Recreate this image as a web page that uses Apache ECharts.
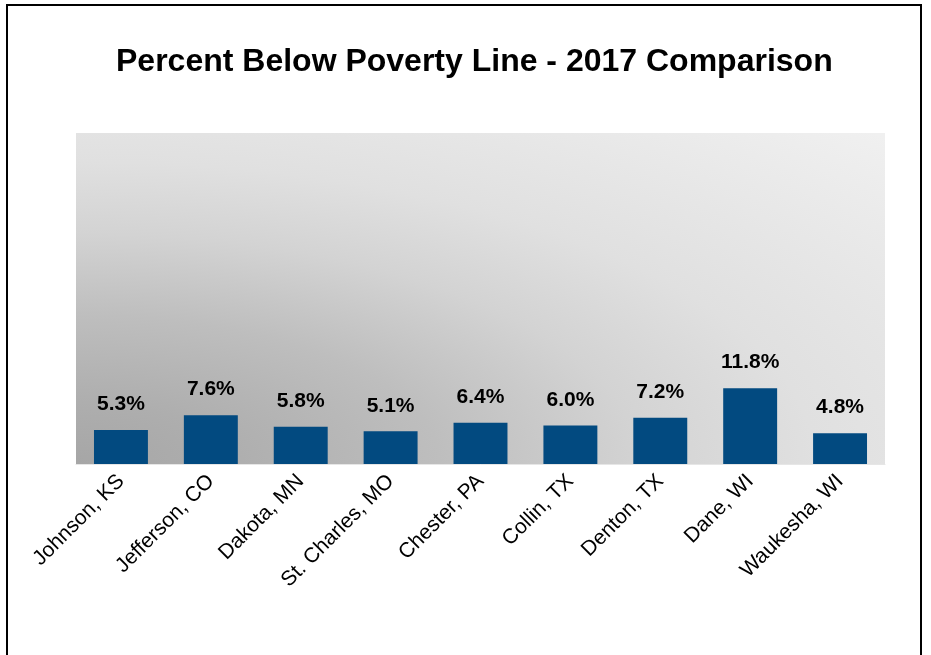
<!DOCTYPE html>
<html>
<head>
<meta charset="utf-8">
<title>Percent Below Poverty Line - 2017 Comparison</title>
<script src="https://cdn.jsdelivr.net/npm/echarts@6/dist/echarts.min.js"></script>
<style>
  html, body { margin: 0; padding: 0; background: #ffffff; }
  #chart { width: 931px; height: 655px; }
</style>
</head>
<body>
<div id="chart"></div>
<script>
// County names on the category axis
const counties = [
  'Johnson, KS', 'Jefferson, CO', 'Dakota, MN', 'St. Charles, MO',
  'Chester, PA', 'Collin, TX', 'Denton, TX', 'Dane, WI', 'Waukesha, WI'
];
// Share of residents below the poverty line, 2017 (%)
const povertyPct = [5.3, 7.6, 5.8, 5.1, 6.4, 6.0, 7.2, 11.8, 4.8];

const FONT = '"Liberation Sans", Arial, Helvetica, sans-serif';

// Plot rectangle
const plot = { left: 76, top: 133, width: 809, height: 331 };

const chart = echarts.init(document.getElementById('chart'), null, { renderer: 'canvas' });

chart.setOption({
  backgroundColor: '#ffffff',
  animation: false,
  title: {
    text: 'Percent Below Poverty Line - 2017 Comparison',
    left: 111,
    top: 41,
    textStyle: { fontFamily: FONT, fontSize: 32, fontWeight: 'bold', color: '#000000' }
  },
  graphic: [
    // outer frame
    {
      type: 'rect',
      silent: true,
      z: -20,
      shape: { x: 7, y: 5, width: 914, height: 720 },
      style: { fill: 'none', stroke: '#000000', lineWidth: 2 }
    },
    // shaded plot background: darkest in the lower-left corner, fading outward
    {
      type: 'rect',
      silent: true,
      z: -10,
      x: plot.left,
      y: plot.top,
      scaleX: plot.width / plot.height,
      shape: { x: 0, y: 0, width: plot.height, height: plot.height },
      style: {
        fill: {
          type: 'radial', x: 0, y: 1, r: 1.45,
          colorStops: [
            { offset: 0.00, color: '#a6a6a6' },
            { offset: 0.13, color: '#aeaeae' },
            { offset: 0.31, color: '#bebebe' },
            { offset: 0.48, color: '#d3d3d3' },
            { offset: 0.63, color: '#e0e0e0' },
            { offset: 0.97, color: '#f0f0f0' },
            { offset: 1.00, color: '#f1f1f1' }
          ],
          global: false
        }
      }
    }
  ],
  grid: {
    left: plot.left,
    top: plot.top,
    width: plot.width,
    height: plot.height,
    containLabel: false
  },
  xAxis: {
    type: 'category',
    data: counties,
    axisLine: { show: true, lineStyle: { color: '#e6e6e6', width: 1 } },
    axisTick: { show: false },
    axisLabel: {
      rotate: 45,
      interval: 0,
      margin: 14,
      color: '#000000',
      fontFamily: FONT,
      fontSize: 21
    }
  },
  yAxis: {
    type: 'value',
    min: 0,
    max: 51.5,
    show: false,
    splitLine: { show: false }
  },
  series: [{
    type: 'bar',
    data: povertyPct,
    barWidth: '60%',
    itemStyle: { color: '#024a80' },
    label: {
      show: true,
      position: 'top',
      distance: 15,
      color: '#000000',
      fontFamily: FONT,
      fontSize: 21,
      fontWeight: 'bold',
      formatter: p => p.value.toFixed(1) + '%'
    }
  }]
});
</script>
</body>
</html>
